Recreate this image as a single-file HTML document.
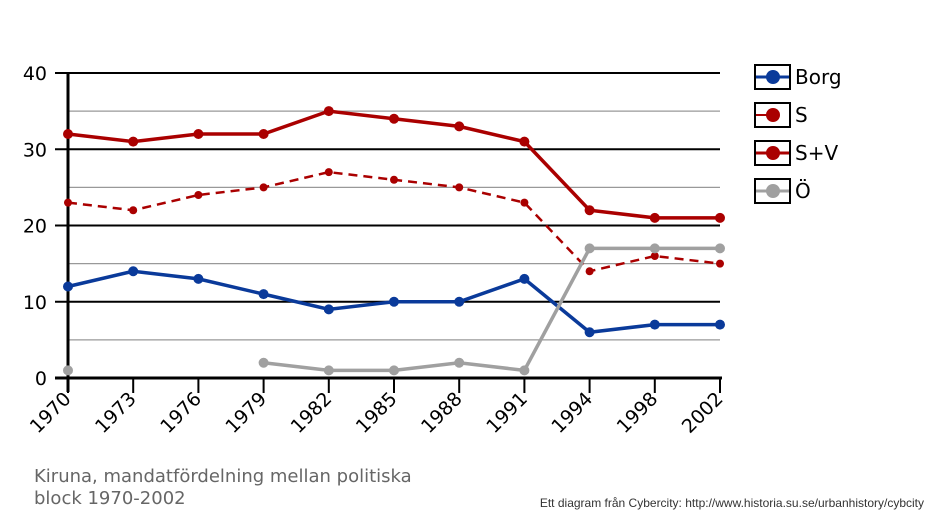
<!DOCTYPE html>
<html><head><meta charset="utf-8"><style>
html,body{margin:0;padding:0;background:#fff;width:938px;height:521px;overflow:hidden}
svg{display:block}
text{font-family:"DejaVu Sans","Liberation Sans",sans-serif}
</style></head><body>
<svg id="s" width="938" height="521" viewBox="0 0 938 521" xmlns="http://www.w3.org/2000/svg">
<g id="grid"></g>
<text x="34" y="482" font-size="18" fill="#666">Kiruna, mandatfördelning mellan politiska</text>
<text x="34" y="504" font-size="18" fill="#666">block 1970-2002</text>
<text x="924" y="507" font-size="12" fill="#333" text-anchor="end" style="font-family:'Liberation Sans',sans-serif">Ett diagram från Cybercity: http://www.historia.su.se/urbanhistory/cybcity</text>
<g font-size="20">
<rect x="755" y="65" width="35" height="24" fill="#fff" stroke="#000" stroke-width="2"/>
<line x1="756" y1="77" x2="789" y2="77" stroke="#0a3a9a" stroke-width="3"/><circle cx="773" cy="77" r="7" fill="#0a3a9a"/>
<text x="795" y="84">Borg</text>
<rect x="755" y="103" width="35" height="24" fill="#fff" stroke="#000" stroke-width="2"/>
<line x1="756" y1="115" x2="772" y2="115" stroke="#a00" stroke-width="2"/><circle cx="773" cy="115" r="7" fill="#a00"/>
<text x="795" y="122">S</text>
<rect x="755" y="141" width="35" height="24" fill="#fff" stroke="#000" stroke-width="2"/>
<line x1="756" y1="153" x2="789" y2="153" stroke="#a00" stroke-width="3"/><circle cx="773" cy="153" r="7" fill="#a00"/>
<text x="795" y="160">S+V</text>
<rect x="755" y="179" width="35" height="24" fill="#fff" stroke="#000" stroke-width="2"/>
<line x1="756" y1="191" x2="789" y2="191" stroke="#a0a0a0" stroke-width="3"/><circle cx="773" cy="191" r="7" fill="#a0a0a0"/>
<text x="795" y="198">Ö</text>
</g>
</svg>
<script>
var NS="http://www.w3.org/2000/svg",g=document.getElementById("grid");
function el(t,a,txt){var e=document.createElementNS(NS,t);for(var k in a)e.setAttribute(k,a[k]);if(txt!=null)e.textContent=txt;g.appendChild(e);return e;}
function X(i){return 68+i*65.2}function Y(v){return 378-7.625*v}
for(var v=5;v<=35;v+=10)el("line",{x1:68,x2:720,y1:Y(v),y2:Y(v),stroke:"#999","stroke-width":1.3});
for(var v=10;v<=40;v+=10){el("line",{x1:55,x2:720,y1:Y(v),y2:Y(v),stroke:"#000","stroke-width":2});}
for(var v=0;v<=40;v+=10)el("text",{x:47,y:Y(v)+7,"font-size":19,"text-anchor":"end"},v);
el("line",{x1:55,x2:722,y1:378,y2:378,stroke:"#000","stroke-width":3});
el("line",{x1:68,x2:68,y1:72,y2:392,stroke:"#000","stroke-width":3});
var yrs=[1970,1973,1976,1979,1982,1985,1988,1991,1994,1998,2002];
yrs.forEach(function(y,i){el("line",{x1:X(i),x2:X(i),y1:378,y2:393,stroke:"#000","stroke-width":2});
el("text",{x:X(i)+4,y:400,"font-size":19,"text-anchor":"end",transform:"rotate(-45 "+(X(i)+4)+" 400)"},y);});
function series(vals,col,w,r,dash,start){var p=vals.map(function(v,i){return X(i+start)+","+Y(v)}).join(" ");
var a={points:p,fill:"none",stroke:col,"stroke-width":w};if(dash)a["stroke-dasharray"]=dash;el("polyline",a);
vals.forEach(function(v,i){el("circle",{cx:X(i+start),cy:Y(v),r:r,fill:col})});}
series([23,22,24,25,27,26,25,23,14,16,15],"#a00",2.5,4,"9,6",0);
series([32,31,32,32,35,34,33,31,22,21,21],"#a00",3.5,5,null,0);
series([12,14,13,11,9,10,10,13,6,7,7],"#0a3a9a",3.5,5,null,0);
series([2,1,1,2,1,17,17,17],"#a0a0a0",3.5,5,null,3);
el("circle",{cx:X(0),cy:Y(1),r:5,fill:"#a0a0a0"});
</script>
</body></html>
